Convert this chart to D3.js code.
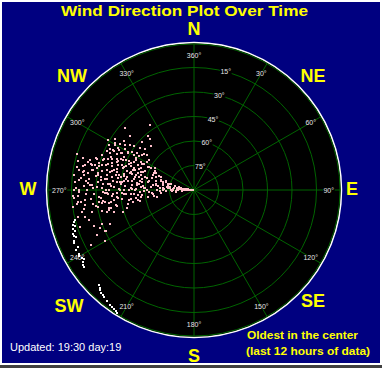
<!DOCTYPE html>
<html>
<head>
<title>Wind Direction Plot Over Time</title>
<script src="https://cdn.jsdelivr.net/npm/d3@7"></script>
<style>
  body { margin: 0; background: #ffffff; }
  svg text { font-family: "Liberation Sans", Arial, sans-serif; }
</style>
</head>
<body>
<svg id="chart"></svg>
<script>
// readings: [direction in degrees, hours ago]; 12 h old sits in the centre
const oldest = [[272,11.9],[270,11.8],[274,11.7],[269,11.6],[276,11.5],[271,11.4],[268,11.3],[278,11.2],[273,11.1],[266,11.0],
  [280,10.9],[275,10.8],[270,10.7],[277,10.6],[265,10.5],[281,10.4],[272,10.3],[268,10.2],[284,10.1],[274,10.0],
  [270,11.85],[275,11.65],[272,11.45],[279,11.25],[267,11.05],[276,10.85],[271,10.65],[283,10.45],[269,10.25],[278,10.05],
  [273,11.55],[277,11.35],[270,11.15],[274,10.95],[280,10.75],[268,10.55],[275,10.35],[271,10.15]];
const early = [[275,9.9],[282,9.8],[268,9.7],[288,9.6],[273,9.5],[279,9.4],[265,9.3],[285,9.2],[291,9.1],[270,9.0],
  [277,8.9],[283,8.8],[262,8.7],[294,8.6],[274,8.5],[286,8.4],[268,8.3],[280,8.2],[297,8.1],[272,8.0],
  [278,9.85],[271,9.55],[284,9.35],[276,9.05],[289,8.75],[266,8.55],[281,8.25],[293,8.45],[270,8.15],[287,9.65],
  [274,9.25],[300,8.35],[259,8.95],[261,8.2],[290,8.4],[283,9.95],[276,9.75],[270,9.45],[287,9.15],[279,8.85],
  [265,8.65],[292,8.9],[284,8.05],[277,8.6],[269,9.2],[296,8.5],[281,9.45]];
const middle = [[272,7.95],[285,7.9],[296,7.8],[264,7.75],[279,7.7],[290,7.6],[268,7.55],[301,7.5],[276,7.45],[283,7.4],
  [260,7.35],[293,7.3],[271,7.25],[287,7.2],[298,7.1],[266,7.05],[280,7.0],[275,6.95],[289,6.9],[304,6.85],
  [262,6.8],[284,6.75],[270,6.7],[295,6.6],[278,6.55],[258,6.5],[291,6.45],[273,6.4],[286,6.35],[300,6.3],
  [267,6.25],[281,6.2],[294,6.15],[276,6.1],[263,6.05],[288,6.0],[282,7.65],[270,7.15],[297,6.65],[277,6.25],
  [306,7.0],[255,6.3],[313,6.2],[319,6.5],[316,7.0],[303,6.5],[307,7.2],[310,6.8],[320,6.2],[261,6.6],
  [272,6.85],[286,6.65],[293,6.45],[268,6.15],[279,6.35],[301,6.05],[275,7.35],[282,7.05],[289,7.45],[263,7.6],
  [297,7.85],[259,6.9],[290,6.8],[258,7.5],[274,7.85],[291,7.75],[279,7.55],[265,7.4],[296,7.25],[284,7.1],
  [271,6.95],[288,6.75],[299,6.55],[267,6.45],[281,6.4],[292,6.25],[275,6.05],[302,6.7],[286,7.5],[269,7.9],
  [294,7.0],[278,6.85],[283,6.15],[262,7.2],[298,7.4],[273,7.65],[308,6.4],[289,6.1],[266,6.85],[277,7.3],
  [285,6.55],[291,7.15],[270,6.3],[304,7.6]];
const later = [[270,5.95],[287,5.9],[299,5.85],[264,5.8],[281,5.75],[293,5.7],[276,5.65],[305,5.6],[259,5.55],[285,5.5],
  [272,5.45],[297,5.4],[267,5.35],[290,5.3],[279,5.25],[310,5.2],[262,5.15],[283,5.1],[295,5.05],[274,5.0],
  [288,4.95],[302,4.9],[257,4.85],[280,4.8],[268,4.75],[292,4.7],[277,4.65],[300,4.6],[263,4.55],[286,4.5],
  [271,4.45],[296,4.4],[282,4.35],[266,4.25],[289,4.2],[275,4.15],[298,4.1],[260,4.05],[284,4.0],[326,5.6],
  [312,4.4],[294,5.95],[273,5.2],[290,4.55],[279,4.1],[301,5.45],[268,4.9],[255,5.2],[306,5.9],[303,5.3],
  [301,4.5],[300,3.9],[296,4.6],[298,5.1],[262,4.7],[256,4.7],[258,5.1],[258,5.6],[265,5.7],[283,5.55],
  [291,5.35],[270,5.05],[277,4.85],[287,4.65],[262,4.45],[294,4.25],[280,4.05],[271,5.85],[284,5.25],[296,4.75],
  [276,4.35],[253,5.9],[248,4.6],[257,4.3],[267,5.0],[276,5.9],[289,5.8],[268,5.7],[295,5.65],[281,5.5],
  [263,5.4],[292,5.2],[274,5.15],[286,5.0],[299,4.95],[270,4.85],[283,4.7],[294,4.5],[265,4.4],[278,4.3],
  [288,4.15],[272,4.05],[297,5.3],[280,5.95],[261,5.0],[305,5.05],[291,4.85],[269,4.6],[285,4.25],[276,5.35],
  [300,5.75],[258,4.9],[293,5.55],[282,4.95],[266,5.25],[288,5.45],[274,4.55],[303,4.3],[279,5.7],[263,4.2]];
const recent = [[282,2.7],[284,3.3],[274,2.3],[267,2.5],[260,2.9],[242,2.5],[245,3.3],[250,4.0],[245,4.0],[240,3.6],
  [277,2.1],[270,2.2],[263,2.4],[286,2.6],[279,2.8],[272,3.0],[265,3.1],[286,3.2],[276,3.4],[258,3.5],
  [288,3.7],[268,3.8],[291,3.95],[281,3.6],[273,3.5],[262,2.05],[266,2.15],[271,2.35],[275,2.55],[280,2.45],
  [257,2.3],[269,2.65],[264,2.75],[278,2.95],[254,3.1],[285,3.05],[284,3.45],[270,3.25],[248,3.75],[283,3.85],
  [288,3.6],[261,3.9],[275,3.15],[252,2.2],[287,2.0],[245,4.1],[280,2.9],[284,3.7],[278,3.9],[271,3.75],
  [265,3.6],[281,3.5],[274,3.35],[268,3.2],[262,3.0],[283,2.85],[276,2.75],[270,2.6],[259,2.65],[264,2.45],
  [281,2.3],[267,2.1],[273,3.65],[256,2.8],[286,3.95],[250,3.3],[279,3.25],[262,3.7],[284,2.25]];
const newest = [[254,1.75],[252,1.6],[247,1.4],[243,1.2],[240,1.2],[238,1.4],[236,1.1],[225,1.0],[221,0.65],[215,0.35],
  [213,0.25],[255,1.9],[253,1.85],[251,1.7],[250,1.5],[249,1.55],[246,1.3],[244,1.45],[241,1.25],[239,1.3],
  [237,1.15],[235,1.05],[224,0.9],[223,0.8],[222,0.7],[220,0.6],[218,0.5],[216,0.4],[214,0.3],[212,0.2],
  [256,1.95],[248,1.65]];

const ringHours = [10, 8, 6, 4, 2, 0];
const spokeAngles = [0, 30, 60, 90, 120, 150, 180, 210, 240, 270, 300, 330];
const outerLabels = ["360°","30°","60°","90°","120°","150°","180°","210°","240°","270°","300°","330°"];
const innerLabels = ["15°","30°","45°","60°","75°"];
const innerLabelHours = [2, 4, 6, 8, 10];
const compass = ["N","NE","E","SE","S","SW","W","NW"];

const W = 382, H = 368;
const cx = 194, cy = 190, R = 147;

const svg = d3.select("#chart").attr("width", W).attr("height", H);

// window frame + navy panel
svg.append("rect").attr("width", W).attr("height", H).attr("fill", "#ffffff");
svg.append("rect").attr("x", 0).attr("y", 365).attr("width", W).attr("height", 3).attr("fill", "#404040");
svg.append("rect").attr("x", 2).attr("y", 2).attr("width", 378).attr("height", 361).attr("fill", "#000080");

const r = d3.scaleLinear().domain([12, 0]).range([0, R]);
const rad = d => d * Math.PI / 180;

const g = svg.append("g").attr("transform", `translate(${cx},${cy})`);

g.append("circle").attr("r", R + 0.5).attr("fill", "#000000").attr("stroke", "#ffffff").attr("stroke-width", 1.5);

// rings
g.selectAll("circle.ring").data(ringHours).enter().append("circle")
  .attr("class", "ring").attr("r", d => r(d) - (d === 0 ? 1 : 0))
  .attr("fill", "none").attr("stroke", "#006400").attr("stroke-width", 1);

// spokes
g.selectAll("line.spoke").data(spokeAngles).enter().append("line")
  .attr("class", "spoke")
  .attr("x1", 0).attr("y1", 0)
  .attr("x2", d => d3.pointRadial(rad(d), R - 1)[0])
  .attr("y2", d => d3.pointRadial(rad(d), R - 1)[1])
  .attr("stroke", "#006400").attr("stroke-width", 1);

// degree labels with black backing
function degLabel(txt, pos) {
  const t = g.append("text").attr("x", pos[0]).attr("y", pos[1] + 2.5)
    .attr("text-anchor", "middle").attr("font-size", "7px").attr("fill", "#e8e8e8").text(txt);
  const b = t.node().getBBox();
  g.insert("rect", () => t.node()).attr("x", b.x - 0.5).attr("y", b.y + 1).attr("width", b.width + 1)
    .attr("height", b.height - 2).attr("fill", "#000000");
}
spokeAngles.forEach((a, i) => degLabel(outerLabels[i], d3.pointRadial(rad(a), r(1))));
innerLabels.forEach((l, i) => degLabel(l, d3.pointRadial(rad(15), r(innerLabelHours[i]))));

// readings
const readings = [].concat(oldest, early, middle, later, recent, newest);
g.selectAll("rect.pt").data(readings).enter().append("rect")
  .attr("class", "pt")
  .attr("x", d => Math.round(d3.pointRadial(rad(d[0]), r(d[1]))[0]) - 1)
  .attr("y", d => Math.round(d3.pointRadial(rad(d[0]), r(d[1]))[1]) - 1)
  .attr("width", 2).attr("height", 2)
  .attr("shape-rendering", "crispEdges")
  .attr("fill", d => d[1] < 2 ? "#ffffff" : "#ffc0cb");

// compass letters
const compassPos = [[194,28],[313,75],[352,188],[313,300],[194,355],[69,305],[28,188],[72,75]];
svg.selectAll("text.compass").data(compass).enter().append("text")
  .attr("class", "compass")
  .attr("x", (d, i) => compassPos[i][0]).attr("y", (d, i) => compassPos[i][1] + 6.5)
  .attr("text-anchor", "middle").attr("font-size", "18px").attr("font-weight", "bold")
  .attr("fill", "#ffff00").text(d => d);

svg.append("text").attr("x", 61).attr("y", 16)
  .attr("font-size", "15px").attr("font-weight", "bold").attr("fill", "#ffff00")
  .attr("textLength", 247).attr("lengthAdjust", "spacingAndGlyphs")
  .text("Wind Direction Plot Over Time");

svg.append("text").attr("x", 10).attr("y", 351).attr("font-size", "11px").attr("fill", "#ffffff")
  .text("Updated: 19:30 day:19");

svg.append("text").attr("x", 247).attr("y", 339).attr("font-size", "11px").attr("font-weight", "bold")
  .attr("fill", "#ffff00").attr("textLength", 111).attr("lengthAdjust", "spacingAndGlyphs")
  .text("Oldest in the center");
svg.append("text").attr("x", 246).attr("y", 355).attr("font-size", "11px").attr("font-weight", "bold")
  .attr("fill", "#ffff00").attr("textLength", 124).attr("lengthAdjust", "spacingAndGlyphs")
  .text("(last 12 hours of data)");
</script>
</body>
</html>
